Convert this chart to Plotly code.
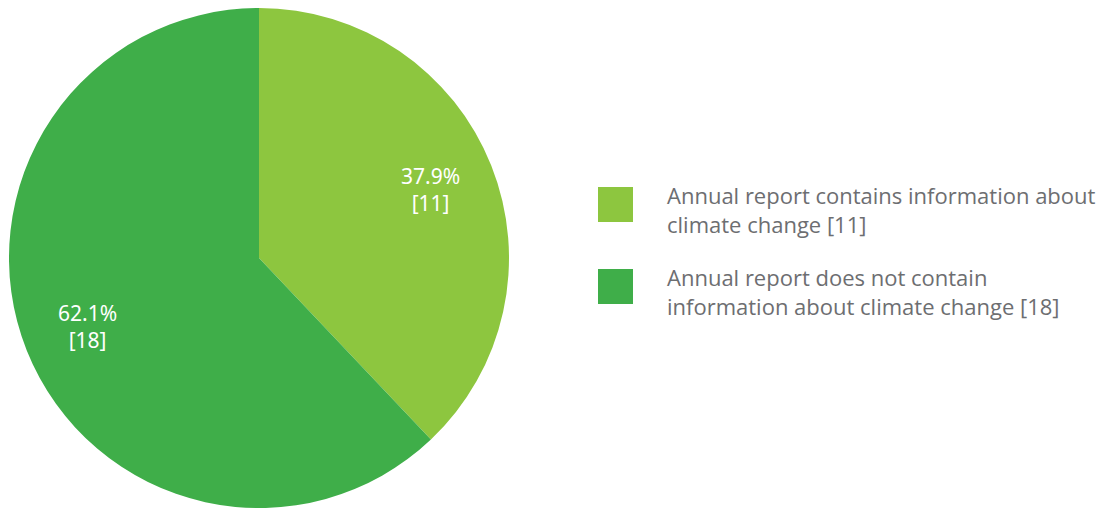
import math
import plotly.graph_objects as go

label_lines = [["Annual report contains information about", "climate change"],
               ["Annual report does not contain", "information about climate change"]]
values = [11, 18]
colors = ["#8DC63F", "#3FAE49"]
labels = [" ".join(l) for l in label_lines]

W, H = 1113, 508
# the page adds an 8px body margin; figure coords = screen coords - 8
CX, CY, R = 251, 250, 250

fig = go.Figure(go.Pie(
    labels=labels,
    values=values,
    sort=False,
    direction="clockwise",
    rotation=0,
    marker=dict(colors=colors, line=dict(width=0)),
    textinfo="none",
    hoverinfo="label+value+percent",
    domain=dict(x=[(CX - R) / W, (CX + R) / W],
                y=[1 - (CY + R) / H, 1 - (CY - R) / H]),
    showlegend=False,
))

# slice labels placed at mid-angle of each slice
total = sum(values)
start = 0.0
for v in values:
    frac = v / total
    mid = (start + frac / 2) * 2 * math.pi
    start += frac
    px = CX + 0.74 * R * math.sin(mid)
    py = CY - 0.74 * R * math.cos(mid)
    fig.add_annotation(xref="paper", yref="paper",
                       x=px / W, y=1 - py / H,
                       xanchor="center", yanchor="middle", align="center",
                       showarrow=False,
                       text=f"{frac * 100:.1f}%<br>[{v}]",
                       font=dict(family="Noto Sans", size=21, color="white"))

# custom legend (large square swatches)
sq_x0, sq_size = 590, 35
sq_tops = [179, 261]
for lines, val, col, top in zip(label_lines, values, colors, sq_tops):
    fig.add_shape(type="rect", xref="paper", yref="paper",
                  x0=sq_x0 / W, x1=(sq_x0 + sq_size) / W,
                  y0=1 - (top + sq_size) / H, y1=1 - top / H,
                  fillcolor=col, line=dict(width=0))
    text = "<br>".join(lines[:-1] + [f"{lines[-1]} [{val}]"])
    fig.add_annotation(xref="paper", yref="paper",
                       x=657 / W, y=1 - (top + 22.5) / H,
                       xanchor="left", yanchor="middle", align="left",
                       showarrow=False,
                       text=text,
                       font=dict(family="Open Sans", size=22, color="#6D6E71"))

fig.update_layout(
    width=W, height=H,
    margin=dict(l=0, r=0, t=0, b=0),
    paper_bgcolor="white",
    plot_bgcolor="white",
)

fig.write_html("out.html")
